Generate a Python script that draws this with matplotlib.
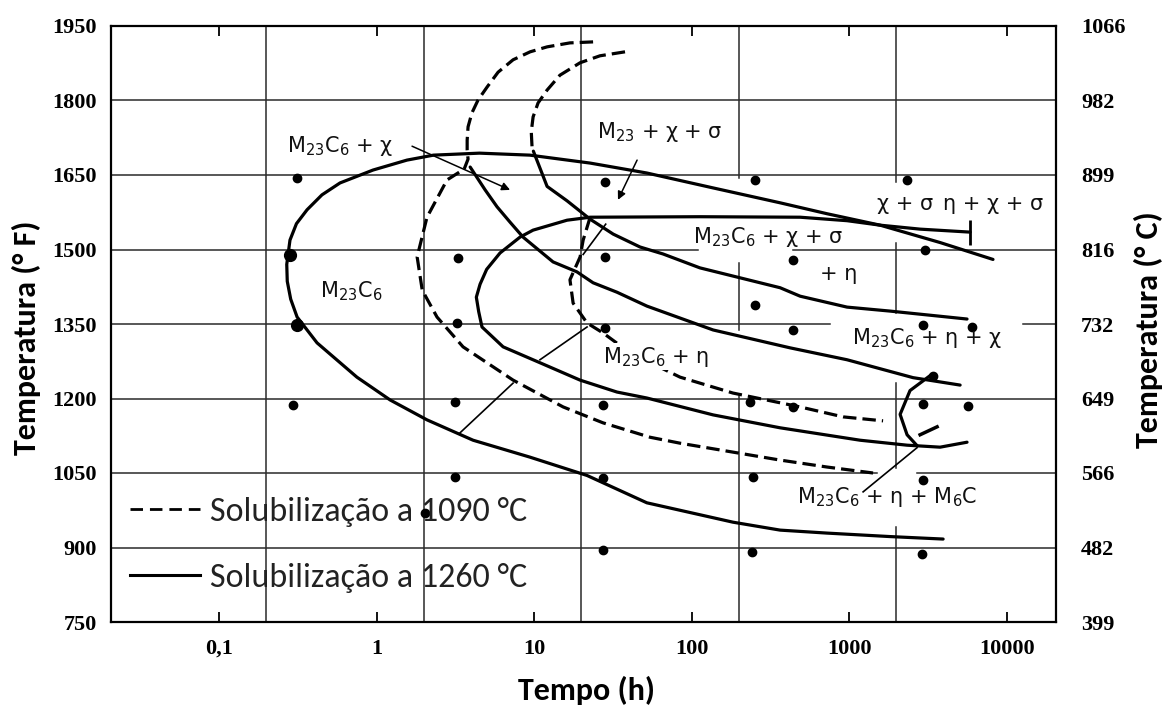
import matplotlib
matplotlib.use('Agg')
import numpy as np
import matplotlib.pyplot as plt
import matplotlib.font_manager as fm
from matplotlib.lines import Line2D
from matplotlib.ticker import NullLocator

avail = {f.name for f in fm.fontManager.ttflist}
def pick(*names):
    for n in names:
        if n in avail:
            return n
    return 'DejaVu Sans'

LABFONT = 'DejaVu Sans'
SERIF = pick('Liberation Serif', 'DejaVu Serif')
SANS = pick('Carlito', 'Lato', 'Open Sans', 'DejaVu Sans')
plt.rcParams['mathtext.default'] = 'regular'

# ---------------- data (time in h, temperature in °F) ----------------
XTICKS = [0.1, 1, 10, 100, 1000, 10000]
XTICKLABELS = ['0,1', '1', '10', '100', '1000', '10000']
YTICKS_F = [750, 900, 1050, 1200, 1350, 1500, 1650, 1800, 1950]
YTICKLABELS_F = ['750', '900', '1050', '1200', '1350', '1500', '1650', '1800', '1950']
YTICKLABELS_C = ['399', '482', '566', '649', '732', '816', '899', '982', '1066']

# solid curves (solubilization at 1260 °C)
A_t = [8200, 3785, 1574, 725, 365, 137, 52, 22.7, 9.4, 4.5, 2.3, 1.56, 0.95, 0.586,
       0.45, 0.362, 0.31, 0.282, 0.269, 0.271, 0.285, 0.313, 0.419, 0.75, 1.22, 2.09, 4.1, 9.4, 21.7,
       52, 183, 365, 725, 1820, 3955]
A_T = [1480, 1514, 1549, 1572, 1594, 1624, 1654, 1674, 1690, 1694, 1690, 1680, 1660, 1634,
       1610, 1580, 1552, 1519, 1470, 1436, 1400, 1364, 1312, 1243, 1197, 1157, 1116, 1082, 1045,
       990, 951, 935, 929, 922, 917]

B_t = [5865, 2825, 1574, 971, 489, 113, 22.7, 16.2, 9.86, 8.15, 6.08, 5.0, 4.54, 4.3,
       4.45, 4.67, 6.36, 10.9, 19.6, 33.6, 52, 137, 365, 1175, 2335, 3785, 5610]
B_T = [1535, 1541, 1549, 1558, 1565, 1566, 1565, 1559, 1539, 1525, 1493, 1460, 1430, 1404,
       1375, 1344, 1304, 1272, 1237, 1213, 1201, 1167, 1141, 1116, 1106, 1102, 1112]

R_t = [9.9, 12.1, 16.2, 22.7, 31.8, 47.1, 65.9, 113, 365, 489, 971, 1820, 5610]
R_T = [1698, 1627, 1598, 1561, 1531, 1505, 1491, 1463, 1423, 1406, 1384, 1376, 1360]

P_t = [3.93, 4.89, 5.82, 7.04, 8.51, 13.2, 18.7, 23.7, 33.6, 52.1, 137, 422, 971, 2547, 5070]
P_T = [1666, 1620, 1586, 1555, 1525, 1475, 1455, 1433, 1414, 1386, 1338, 1302, 1278, 1242, 1227]

K_t = [3268, 2438, 2109, 2335, 2703]
K_T = [1246, 1216, 1168, 1127, 1105]

# dashed curves (solubilization at 1090 °C)
D1_t = [23.7, 16.9, 12.1, 9.44, 7.36, 5.91, 5.03, 4.41, 4.03, 3.81, 3.76, 3.76, 3.81, 3.6,
        2.80, 2.09, 1.81, 1.95, 2.42, 3.54, 7.36, 15.3, 27.4, 54.5, 84.5, 365, 725, 1420]
D1_T = [1918, 1916, 1908, 1898, 1882, 1857, 1827, 1801, 1775, 1747, 1720, 1700, 1682, 1662,
        1640, 1565, 1485, 1418, 1364, 1304, 1237, 1183, 1151, 1122, 1110, 1076, 1062, 1050]

D2_t = [22.7, 20.5, 19.6, 16.9, 17.7, 21.7, 27.4, 40.7, 84.5, 183, 489, 916, 1644]
D2_T = [1565, 1519, 1485, 1439, 1392, 1352, 1332, 1292, 1243, 1211, 1183, 1163, 1155]

D3_t = [37.8, 26.2, 19.6, 14.6, 12.1, 10.6, 9.86, 9.6, 9.71, 9.9]
D3_T = [1898, 1890, 1876, 1851, 1821, 1795, 1767, 1737, 1706, 1698]

# thin tie lines
TIES = [([3.39, 7.36], [1131, 1231]),
        ([10.9, 21.7], [1278, 1344]),
        ([20.5, 28.5], [1490, 1551]),
        ([1228, 2703], [1012, 1101])]
SHORT_t = [2825, 3622]
SHORT_T = [1127, 1143]

ARROWS = [((1.68, 1708), (7.04, 1620)),
          ((45.1, 1680), (34.1, 1600))]

PLUS_t = [5865]
PLUS_T = [1535]

# experimental points
DOT_t = [0.313, 28.2, 253, 2335,
         3.28, 28.2, 441, 3040, 253,
         3.25, 28.2, 441, 2951, 6040, 3415,
         0.295, 3.15, 27.4, 235, 441, 2951, 5700,
         3.15, 27.4, 245, 2951, 2.03,
         27.4, 242, 2905]
DOT_T = [1644, 1636, 1640, 1640,
         1483, 1485, 1479, 1498, 1388,
         1352, 1342, 1338, 1347, 1344, 1246,
         1187, 1193, 1187, 1193, 1183, 1188, 1185,
         1042, 1040, 1042, 1035, 970,
         895, 891, 886]
BIGDOT_t = [0.282, 0.313]
BIGDOT_T = [1489, 1348]

LABELS = [('M$_{23}$C$_6$ + χ', 0.270, 1696),
          ('M$_{23}$ + χ + σ', 25.1, 1725),
          ('M$_{23}$C$_6$', 0.44, 1404),
          ('χ + σ', 1507, 1579),
          ('η + χ + σ', 3955, 1579),
          ('M$_{23}$C$_6$ + χ + σ', 102, 1513),
          ('+ η', 655, 1439),
          ('M$_{23}$C$_6$ + η + χ', 1045, 1310),
          ('M$_{23}$C$_6$ + η', 27.4, 1272),
          ('M$_{23}$C$_6$ + η + M$_6$C', 468, 990)]

# grid segments (scan has interrupted grid lines)
XMIN, XMAX = 0.0206, 20600
HGRID = {1800: [(XMIN, XMAX)],
         1650: [(XMIN, XMAX)],
         1500: [(XMIN, 110), (440, XMAX)],
         1350: [(XMIN, 757), (12700, XMAX)],
         1200: [(XMIN, XMAX)],
         1050: [(XMIN, 1500), (2700, XMAX)],
         900: [(XMIN, XMAX)]}
VGRID = {0.2: [(750, 1950)],
         2: [(750, 1950)],
         20: [(750, 1950)],
         200: [(1644, 1950), (1338, 1473), (750, 1205)],
         2000: [(1636, 1950), (1372, 1513), (1060, 1231), (750, 941)]}

LEG_LABELS = ['Solubilização a 1090 °C', 'Solubilização a 1260 °C']

# ---------------- drawing ----------------
fig = plt.figure(figsize=(11.68, 7.09), dpi=100)
ax = fig.add_axes([111 / 1168, 1 - 622 / 709, 945 / 1168, 596 / 709])
ax.set_xscale('log')
ax.set_xlim(XMIN, XMAX)
ax.set_ylim(750, 1950)

gcol = '#2a2a2a'
for T, segs in HGRID.items():
    for a, b in segs:
        ax.plot([a, b], [T, T], color=gcol, lw=1.1, zorder=1)
for t, segs in VGRID.items():
    for a, b in segs:
        ax.plot([t, t], [a, b], color=gcol, lw=1.1, zorder=1)

lw = 2.3
dash = (4.2, 1.9)
for xs, ys in [(A_t, A_T), (B_t, B_T), (R_t, R_T), (P_t, P_T), (K_t, K_T)]:
    ax.plot(xs, ys, color='black', lw=lw, solid_joinstyle='round', solid_capstyle='round', zorder=3)
for xs, ys in [(D1_t, D1_T), (D2_t, D2_T), (D3_t, D3_T)]:
    ax.plot(xs, ys, color='black', lw=lw, dashes=dash, zorder=3)
for xs, ys in TIES:
    ax.plot(xs, ys, color='black', lw=1.2, zorder=3)
ax.plot(SHORT_t, SHORT_T, color='black', lw=2.5, zorder=3)
for (x0, y0), (x1, y1) in ARROWS:
    ax.annotate('', xy=(x1, y1), xytext=(x0, y0),
                arrowprops=dict(arrowstyle='-|>', color='black', lw=1.1,
                                mutation_scale=12, shrinkA=0, shrinkB=0), zorder=3)
ax.plot(PLUS_t, PLUS_T, ls='none', marker='|', ms=18, mew=2, color='black', zorder=4)
ax.plot(DOT_t, DOT_T, ls='none', marker='o', ms=6, color='black', zorder=4)
ax.plot(BIGDOT_t, BIGDOT_T, ls='none', marker='o', ms=8.5, color='black', zorder=4)

for txt, t, T in LABELS:
    kw = {}
    if txt == 'M$_{23}$C$_6$ + η':
        kw['bbox'] = dict(fc='white', ec='none', pad=1)
    ax.text(t, T, txt, ha='left', va='baseline', fontsize=15, family=LABFONT,
            color='#111111', zorder=5, **kw)

# legend
handles = [Line2D([], [], color='black', lw=2.0, dashes=(4.5, 2.5)),
           Line2D([], [], color='black', lw=2.2)]
leg = ax.legend(handles, LEG_LABELS, loc='center left', bbox_to_anchor=(0.020, 0.129),
                frameon=False, prop=dict(family=SANS, size=24.5), handlelength=2.05,
                handletextpad=0.3, labelspacing=1.05, borderpad=0, borderaxespad=0)
for t in leg.get_texts():
    t.set_color('#222222')

# axes cosmetics
for s in ax.spines.values():
    s.set_linewidth(1.6)
ax.set_xticks(XTICKS)
ax.set_xticklabels(XTICKLABELS)
ax.xaxis.set_minor_locator(NullLocator())
ax.tick_params(axis='x', which='major', direction='in', length=7, width=1.3,
               top=True, pad=12)
ax.set_yticks(YTICKS_F)
ax.set_yticklabels(YTICKLABELS_F)
ax.tick_params(axis='y', length=0, pad=10)
for lab in ax.get_xticklabels() + ax.get_yticklabels():
    lab.set_family(SERIF)
    lab.set_fontsize(16)
    lab.set_fontweight('bold')

ax2 = ax.twinx()
ax2.set_ylim(750, 1950)
ax2.set_yticks(YTICKS_F)
ax2.set_yticklabels(YTICKLABELS_C)
ax2.tick_params(axis='y', length=0, pad=18)
for lab in ax2.get_yticklabels():
    lab.set_family(SERIF)
    lab.set_fontsize(16)
    lab.set_fontweight('bold')
for s in ax2.spines.values():
    s.set_visible(False)

fig.text(26 / 1168, 1 - 338 / 709, 'Temperatura (° F)', rotation=90, ha='center', va='center',
         family=SANS, fontweight='bold', fontsize=23)
fig.text(1148 / 1168, 1 - 330 / 709, 'Temperatura (° C)', rotation=90, ha='center', va='center',
         family=SANS, fontweight='bold', fontsize=23)
fig.text(586 / 1168, 1 - 690 / 709, 'Tempo (h)', ha='center', va='center',
         family=SANS, fontweight='bold', fontsize=23)

fig.savefig('out.png', dpi=100)
